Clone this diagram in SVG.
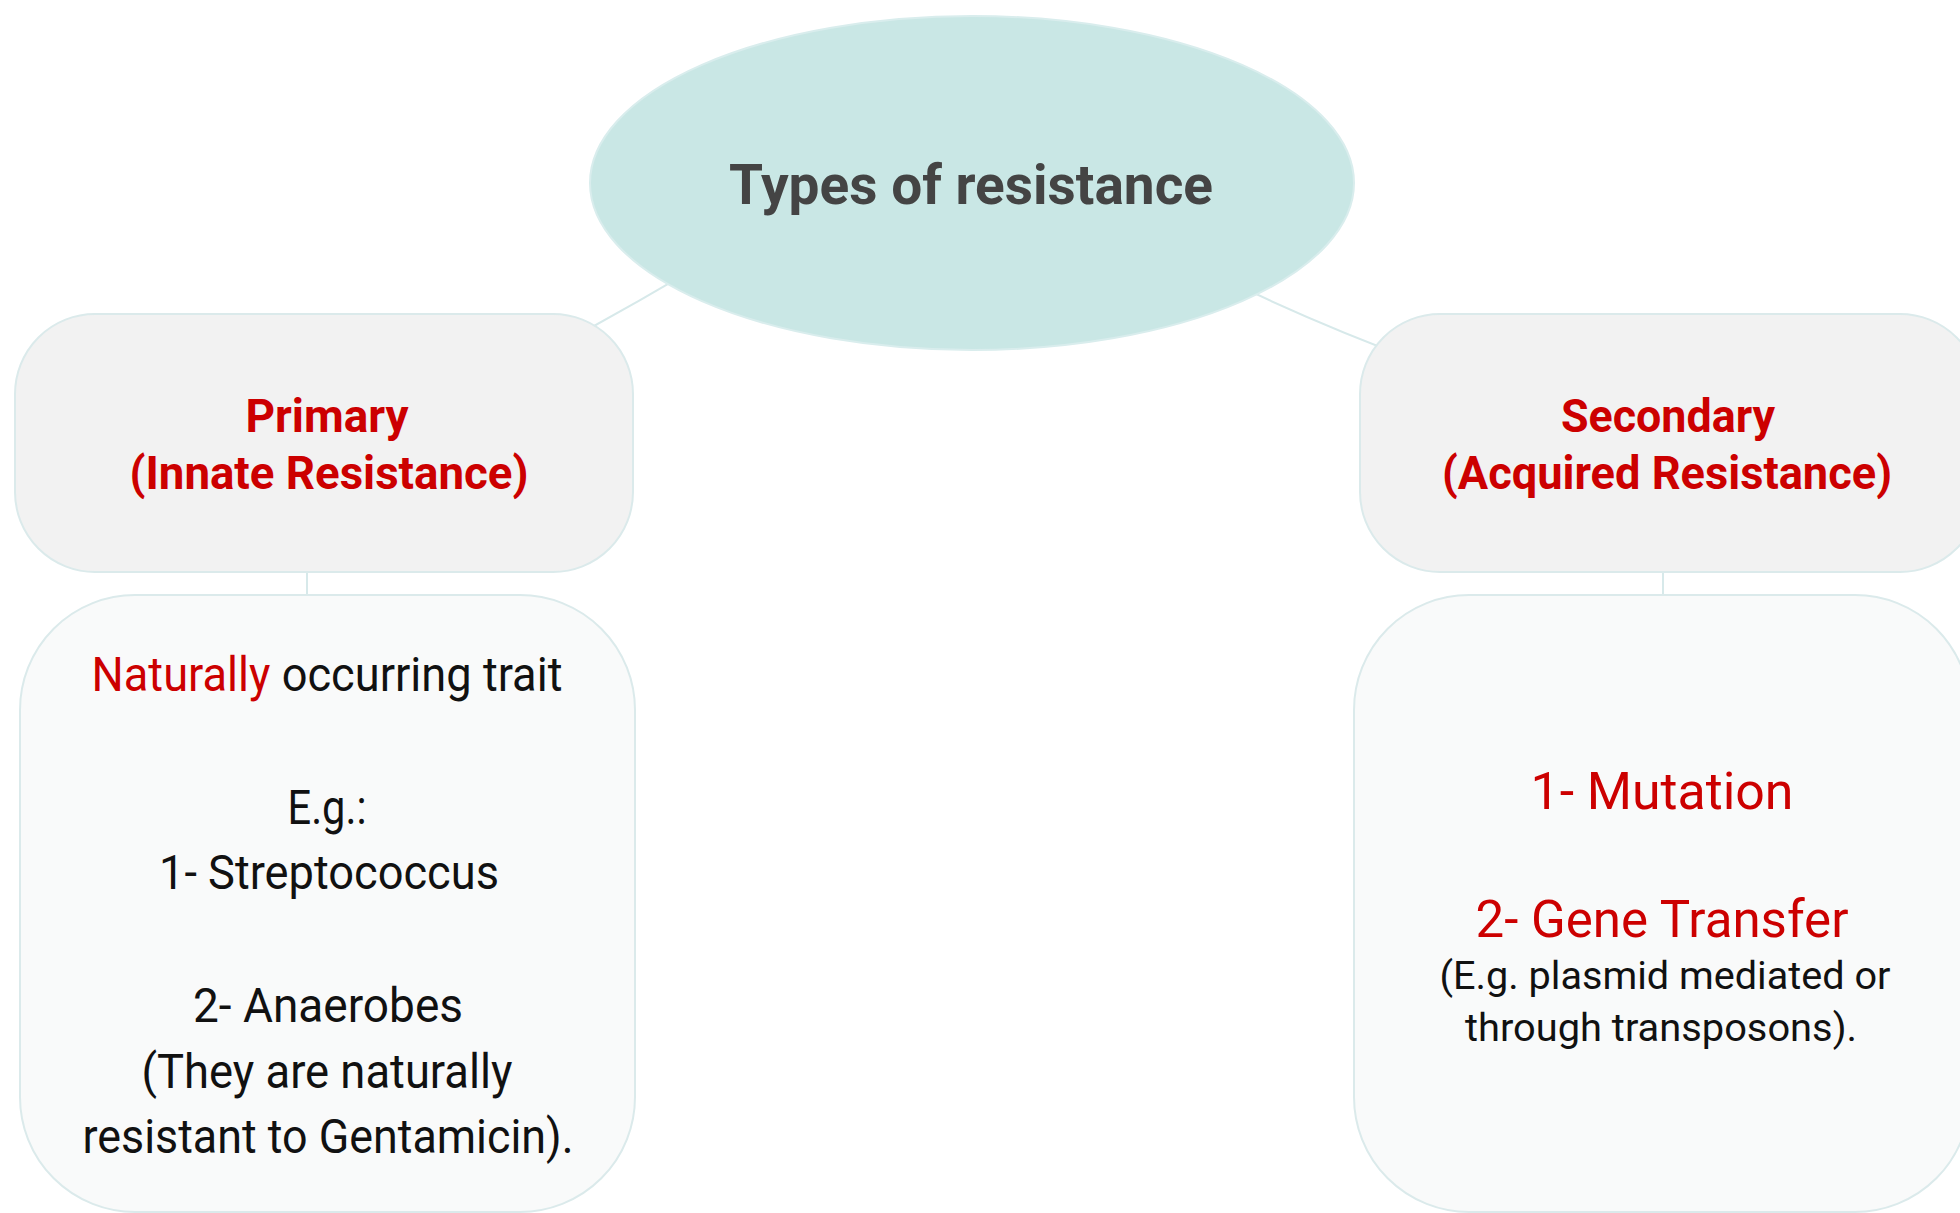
<svg xmlns="http://www.w3.org/2000/svg" width="1960" height="1213" viewBox="0 0 1960 1213">
<style>
.conn{fill:none;stroke:#d7e9ea;stroke-width:2}
.top{fill:#f2f2f2;stroke:#dbeaeb;stroke-width:2}
.low{fill:#f9fafa;stroke:#dbeaeb;stroke-width:2}
text{font-family:Roboto,"Open Sans","Liberation Sans",sans-serif;text-anchor:middle}
.hd{font-weight:bold;font-size:46px;fill:#cc0000}
.tx{font-size:48px;fill:#111111}
.red{fill:#cc0000}
.big{font-size:52px;fill:#cc0000}
.sm{font-size:38px;fill:#111111}
</style>
<rect width="1960" height="1213" fill="#ffffff"/>
<g id="connectors">
<path class="conn" d="M 760 230 Q 660 290 560 345"/>
<path class="conn" d="M 1190 262 Q 1300 318 1420 362"/>
<line class="conn" x1="307" y1="572" x2="307" y2="596"/>
<line class="conn" x1="1663" y1="572" x2="1663" y2="596"/>
</g>
<g id="root">
<ellipse cx="972" cy="183" rx="382" ry="167" fill="#c9e7e5" stroke="#d9eded" stroke-width="2"/>
<text x="971" y="204" style="font-weight:bold;font-size:56px;fill:#444444" textLength="484" lengthAdjust="spacingAndGlyphs">Types of resistance</text>
</g>
<g id="primary">
<rect class="top" x="15" y="314" width="618" height="258" rx="80" ry="80"/>
<text class="hd" x="327" y="432" textLength="163" lengthAdjust="spacingAndGlyphs">Primary</text>
<text class="hd" x="329" y="489" textLength="399" lengthAdjust="spacingAndGlyphs">(Innate Resistance)</text>
</g>
<g id="secondary">
<rect class="top" x="1360" y="314" width="620" height="258" rx="80" ry="80"/>
<text class="hd" x="1668" y="432" textLength="214" lengthAdjust="spacingAndGlyphs">Secondary</text>
<text class="hd" x="1667" y="489" textLength="450" lengthAdjust="spacingAndGlyphs">(Acquired Resistance)</text>
</g>
<g id="primary-details">
<rect class="low" x="20" y="595" width="615" height="617" rx="115" ry="115"/>
<text class="tx" x="327" y="691" textLength="471" lengthAdjust="spacingAndGlyphs"><tspan class="red">Naturally</tspan> occurring trait</text>
<text class="tx" x="327" y="824" textLength="79" lengthAdjust="spacingAndGlyphs">E.g.:</text>
<text class="tx" x="329" y="889" textLength="340" lengthAdjust="spacingAndGlyphs">1- Streptococcus</text>
<text class="tx" x="328" y="1022" textLength="270" lengthAdjust="spacingAndGlyphs">2- Anaerobes</text>
<text class="tx" x="327" y="1088" textLength="371" lengthAdjust="spacingAndGlyphs">(They are naturally</text>
<text class="tx" x="328" y="1153" textLength="491" lengthAdjust="spacingAndGlyphs">resistant to Gentamicin).</text>
</g>
<g id="secondary-details">
<rect class="low" x="1354" y="595" width="616" height="617" rx="115" ry="115"/>
<text class="big" x="1662" y="809" textLength="263" lengthAdjust="spacingAndGlyphs">1- Mutation</text>
<text class="big" x="1662" y="937" textLength="373" lengthAdjust="spacingAndGlyphs">2- Gene Transfer</text>
<text class="sm" x="1665" y="989" textLength="451" lengthAdjust="spacingAndGlyphs">(E.g. plasmid mediated or</text>
<text class="sm" x="1661" y="1041" textLength="392" lengthAdjust="spacingAndGlyphs">through transposons).</text>
</g>
</svg>
